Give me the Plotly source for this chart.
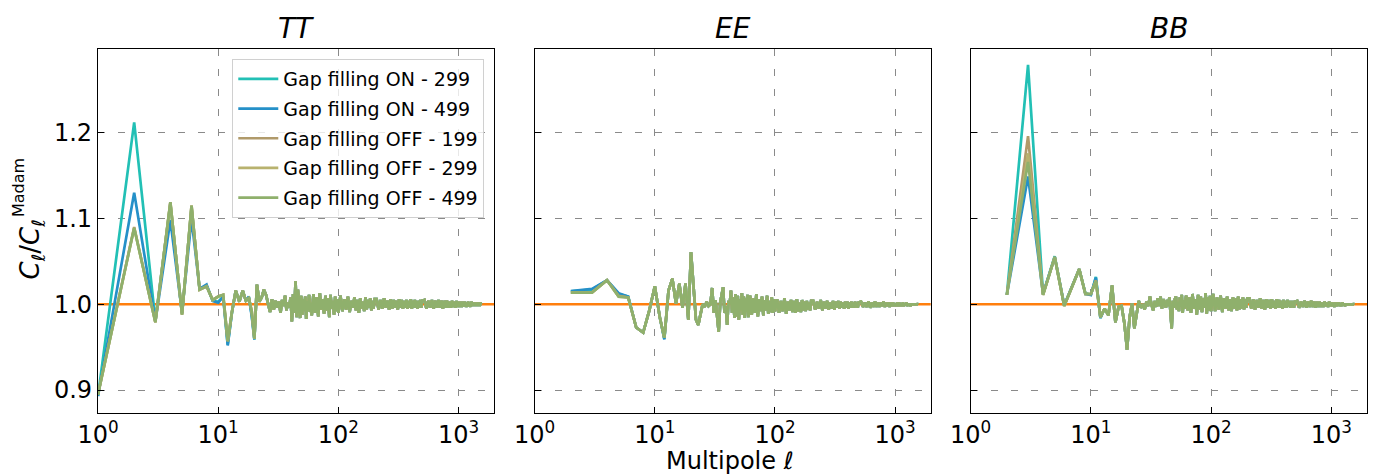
import plotly.graph_objects as go

# ---------------------------------------------------------------------------
# Multipole grid: every multipole at low ell, coarser sampling at high ell
# ---------------------------------------------------------------------------
ell = (list(range(1, 61)) + list(range(62, 101, 2)) + list(range(104, 201, 4))
       + list(range(208, 497, 8)) + list(range(520, 1521, 20)) + [1535])

series_names = ["Gap filling ON - 299", "Gap filling ON - 499", "Gap filling OFF - 199",
                "Gap filling OFF - 299", "Gap filling OFF - 499"]
series_colors = ["#22c0b5", "#2590c8", "#b09a6a", "#b8b26e", "#8fb06c"]

# ---------------------------------------------------------------------------
# TT ratio (ell = 1 ... 1535), common part (Gap filling OFF - 499)
# ---------------------------------------------------------------------------
tt_lo = [0.895, 1.089, 0.979, 1.119, 0.988, 1.115, 1.017, 1.021, 1.005, 1.009,
         1.011, 0.957, 0.991, 1.016, 1.003, 1.016, 1.004, 1.007, 0.992, 0.960,
         1.023, 1.003, 1.008, 1.017, 1.011, 0.999, 0.991, 1.006, 0.994, 1.004,
         0.996, 1.003, 0.990, 1.005, 0.998, 1.010, 0.993, 1.002, 0.996, 1.008,
         0.980, 1.012, 0.990, 1.027, 0.985, 1.017, 0.995, 0.984, 1.010, 0.988,
         1.006, 0.992, 1.009, 0.983, 1.004, 0.993, 1.011, 0.991, 1.002, 0.987]
tt_mid = [1.012, 0.990, 1.008, 0.986, 1.013, 0.994, 1.006, 0.989, 1.010, 0.993,
          1.007, 0.985, 1.011, 0.995, 1.004, 0.988, 1.009, 0.992, 1.006, 0.990]
tt_hi1 = [1.010, 0.992, 1.006, 0.994, 1.009, 0.991, 1.004, 0.996, 1.008, 0.993,
          1.005, 0.990, 1.007, 0.995, 1.003, 0.992, 1.008, 0.994, 1.005, 0.996,
          1.007, 0.993, 1.004, 0.995, 1.006]
tt_hi2 = [1.006, 0.994, 1.005, 0.995, 1.007, 0.996, 1.004, 0.994, 1.006, 0.995,
          1.005, 0.996, 1.004, 0.994, 1.006, 0.996, 1.005, 0.995, 1.004, 0.996,
          1.005, 0.995, 1.004, 0.996, 1.006, 0.995, 1.004, 0.996, 1.005, 0.996,
          1.004, 0.995, 1.004, 0.996, 1.005, 0.996, 1.004]
tt_hi3 = [1.005, 0.995, 1.004, 0.996, 1.005, 0.995, 1.004, 0.996, 1.005, 0.996,
          1.004, 0.995, 1.004, 0.996, 1.004, 0.996, 1.003, 0.996, 1.004, 0.997,
          1.003, 0.996, 1.004, 0.997, 1.003, 0.997, 1.003, 0.997, 1.003, 0.997,
          1.003, 0.997, 1.002, 0.997, 1.003, 0.998, 1.002, 0.997, 1.003, 0.998,
          1.002, 0.998, 1.002, 0.998, 1.002, 0.998, 1.002, 0.998, 1.002, 0.998,
          1.002, 1.000]
# low-ell values where the runs differ
tt_on299_low = [0.893, 1.212, 0.981, 1.117, 0.989, 1.113, 1.018, 1.022, 1.004, 1.003,
                1.009, 0.953, 0.990, 1.016, 1.003, 1.016, 1.004, 1.008, 0.988, 0.959]
tt_on499_low = [0.893, 1.130, 0.980, 1.098, 0.990, 1.100, 1.018, 1.023, 1.004, 1.002,
                1.009, 0.952, 0.990, 1.016, 1.003, 1.016, 1.004, 1.009, 0.986, 0.959]
tt_off199_low = [0.895, 1.090, 0.979, 1.119, 0.988, 1.115, 1.017, 1.021, 1.005, 1.009]
tt_off299_low = [0.895, 1.089, 0.979, 1.119, 0.988, 1.115, 1.017, 1.021, 1.005, 1.009]

# ---------------------------------------------------------------------------
# EE ratio (ell = 2 ... 1535)
# ---------------------------------------------------------------------------
ee_lo = [1.0135, 1.0135, 1.028, 1.009, 1.008, 0.973, 0.967, 0.993, 1.021,
         0.985, 0.961, 1.016, 1.030, 1.001, 1.024, 0.996, 1.024, 0.982, 1.061,
         1.017, 0.982, 0.976, 0.990, 1.000, 0.997, 1.003, 0.998, 1.000, 1.019,
         0.990, 1.005, 0.985, 0.968, 1.002, 1.010, 1.020, 0.990, 0.998, 0.976,
         1.004, 1.000, 1.016, 0.990, 1.008, 0.984, 1.012, 0.986, 1.010, 0.982,
         1.006, 0.993, 1.013, 0.988, 1.009, 0.984, 1.007, 0.991, 1.011, 0.985]
ee_mid = [1.010, 0.988, 1.007, 0.990, 1.012, 0.986, 1.006, 0.992, 1.009, 0.987,
          1.005, 0.993, 1.010, 0.989, 1.004, 0.991, 1.008, 0.990, 1.006, 0.992]
ee_hi1 = [1.006, 0.990, 1.004, 0.992, 1.007, 0.989, 1.003, 0.993, 1.005, 0.991,
          1.004, 0.990, 1.006, 0.992, 1.002, 0.991, 1.005, 0.993, 1.003, 0.992,
          1.004, 0.994, 1.002, 0.993, 1.004]
ee_hi2 = [1.004, 0.994, 1.003, 0.995, 1.005, 0.993, 1.003, 0.995, 1.004, 0.994,
          1.002, 0.995, 1.004, 0.994, 1.003, 0.996, 1.004, 0.995, 1.003, 0.996,
          1.002, 0.995, 1.003, 0.996, 1.003, 0.995, 1.002, 0.996, 1.003, 0.996,
          1.002, 0.996, 1.003, 0.997, 1.002, 0.996, 1.002]
ee_hi3 = [1.003, 0.997, 1.002, 0.997, 1.003, 0.996, 1.002, 0.997, 1.003, 0.997,
          1.002, 0.997, 1.002, 0.998, 1.003, 0.997, 1.002, 0.998, 1.002, 0.997,
          1.002, 0.998, 1.002, 0.998, 1.001, 0.998, 1.002, 0.998, 1.002, 0.998,
          1.001, 0.998, 1.002, 0.998, 1.001, 0.999, 1.002, 0.998, 1.001, 0.999,
          1.001, 0.998, 1.001, 0.999, 1.001, 0.999, 1.001, 0.999, 1.001, 0.999,
          1.001, 1.000]
ee_on299_low = [1.015, 1.017, 1.028, 1.012, 1.009, 0.973, 0.967, 0.993, 1.021, 0.985, 0.960]
ee_on499_low = [1.0155, 1.018, 1.028, 1.013, 1.009, 0.973, 0.967, 0.993, 1.021, 0.985, 0.959]
ee_off199_low = [1.014, 1.014, 1.028, 1.010, 1.008]
ee_off299_low = [1.0135, 1.0135, 1.028, 1.009, 1.008]

# ---------------------------------------------------------------------------
# BB ratio (ell = 2 ... 1535)
# ---------------------------------------------------------------------------
bb_lo = [1.011, 1.166, 1.011, 1.055, 0.998, 1.020, 1.041, 1.012, 1.012,
         1.027, 0.985, 0.995, 0.987, 1.022, 0.979, 0.997, 0.998, 0.978, 0.947,
         0.985, 1.001, 0.972, 0.990, 1.004, 0.996, 1.000, 0.994, 1.003, 0.998,
         1.009, 0.999, 0.993, 1.004, 0.997, 1.007, 0.998, 1.009, 0.995, 1.006,
         1.001, 0.996, 1.005, 0.998, 1.008, 0.993, 0.972, 1.004, 0.996, 1.006,
         1.009, 0.994, 1.003, 0.992, 1.008, 0.997, 1.011, 0.990, 1.005, 0.995]
bb_mid = [1.010, 0.993, 1.008, 0.990, 1.012, 0.995, 1.006, 0.988, 1.011, 0.994,
          1.009, 0.991, 1.007, 0.996, 1.013, 0.989, 1.008, 0.993, 1.010, 0.992]
bb_hi1 = [1.012, 0.992, 1.008, 0.994, 1.010, 0.991, 1.007, 0.995, 1.009, 0.993,
          1.006, 0.992, 1.008, 0.995, 1.007, 0.993, 1.009, 0.994, 1.006, 0.995,
          1.008, 0.994, 1.006, 0.996, 1.007]
bb_hi2 = [1.007, 0.995, 1.006, 0.994, 1.005, 0.996, 1.007, 0.995, 1.005, 0.994,
          1.006, 0.996, 1.005, 0.995, 1.006, 0.996, 1.004, 0.995, 1.006, 0.996,
          1.005, 0.996, 1.004, 0.995, 1.005, 0.996, 1.004, 0.996, 1.005, 0.997,
          1.004, 0.996, 1.004, 0.997, 1.004, 0.996, 1.003]
bb_hi3 = [1.004, 0.996, 1.003, 0.997, 1.004, 0.996, 1.003, 0.997, 1.004, 0.997,
          1.003, 0.996, 1.003, 0.997, 1.003, 0.997, 1.002, 0.997, 1.003, 0.998,
          1.002, 0.997, 1.003, 0.998, 1.002, 0.998, 1.002, 0.997, 1.002, 0.998,
          1.002, 0.998, 1.002, 0.998, 1.001, 0.998, 1.002, 0.999, 1.001, 0.998,
          1.001, 0.999, 1.001, 0.999, 1.001, 0.999, 1.001, 0.999, 1.001, 0.999,
          1.001, 1.000]
bb_on299_low = [1.011, 1.279, 1.012, 1.056, 0.999, 1.021, 1.041, 1.013, 1.011, 1.032, 0.984]
bb_on499_low = [1.011, 1.149, 1.012, 1.055, 0.999, 1.021, 1.041, 1.012, 1.011, 1.031, 0.984]
bb_off199_low = [1.011, 1.196, 1.011, 1.055, 0.998, 1.020, 1.041, 1.012, 1.012, 1.028, 0.985]
bb_off299_low = [1.011, 1.176, 1.011, 1.055, 0.998, 1.020, 1.041, 1.012, 1.012, 1.027, 0.985]

tt_base = tt_lo + tt_mid + tt_hi1 + tt_hi2 + tt_hi3
ee_base = ee_lo + ee_mid + ee_hi1 + ee_hi2 + ee_hi3
bb_base = bb_lo + bb_mid + bb_hi1 + bb_hi2 + bb_hi3
assert len(tt_base) == len(ell)
assert len(ee_base) == len(ell) - 1 and len(bb_base) == len(ell) - 1

# unit ratio level drawn across each panel
unity = 1.0


def runs(base, lows):
    """Full curve for each run: its own low-ell values followed by the common tail."""
    return [low + base[len(low):] for low in lows] + [base]


spectra = [
    ("TT", ell, runs(tt_base, [tt_on299_low, tt_on499_low, tt_off199_low, tt_off299_low])),
    ("EE", ell[1:], runs(ee_base, [ee_on299_low, ee_on499_low, ee_off199_low, ee_off299_low])),
    ("BB", ell[1:], runs(bb_base, [bb_on299_low, bb_on499_low, bb_off199_low, bb_off299_low])),
]

FONT = "DejaVu Sans"
domains = [[0.0, 0.3123], [0.3441, 0.6563], [0.6877, 1.0]]
y_range = [0.8733, 1.2976]
x_range = [0.0, 3.297]
x_span = [10 ** x_range[0], 10 ** x_range[1]]
minor_vals = [m * d for d in (1, 10, 100, 1000) for m in range(2, 10) if m * d < 2000]
grid_style = dict(showgrid=True, gridcolor="#8a8a8a", gridwidth=1, griddash="7px,13px")
tick_style = dict(ticks="inside", ticklen=6, tickwidth=1, tickcolor="black")
frame = dict(showline=True, linecolor="black", linewidth=1.2, mirror=True, zeroline=False)

fig = go.Figure()
for i, (name, x, curves) in enumerate(spectra):
    sfx = "" if i == 0 else str(i + 1)
    minor_ax = str(i + 4)
    # unity level across the full axis span, beneath the curves
    fig.add_trace(go.Scatter(
        x=x_span, y=[unity, unity], mode="lines", showlegend=False, hoverinfo="skip",
        line=dict(color="#ff7f0e", width=2.5), xaxis="x" + sfx, yaxis="y" + sfx,
    ))
    for j, yv in enumerate(curves):
        fig.add_trace(go.Scatter(
            x=x, y=yv, mode="lines", name=series_names[j],
            line=dict(color=series_colors[j], width=2.7),
            showlegend=(i == 0), legendgroup=series_names[j],
            xaxis="x" + sfx, yaxis="y" + sfx,
        ))
    fig.add_annotation(text="<i>" + name + "</i>", xref="paper", yref="paper",
                       x=sum(domains[i]) / 2, y=1.055, showarrow=False,
                       xanchor="center", yanchor="middle",
                       font=dict(family=FONT, size=28, color="black"))

    xa = dict(type="log", domain=domains[i], range=x_range, anchor="y" + sfx,
              tickvals=[1, 10, 100, 1000],
              ticktext=["10<sup>0</sup>", "10<sup>1</sup>", "10<sup>2</sup>", "10<sup>3</sup>"],
              **tick_style, **frame, **grid_style,
              tickfont=dict(family=FONT, size=24, color="black"))
    # companion axis carrying the minor tick marks
    xm = dict(type="log", range=x_range, overlaying="x" + sfx, anchor="y" + sfx,
              side="bottom", tickvals=minor_vals, showticklabels=False,
              ticks="inside", ticklen=3.5, tickwidth=0.8, tickcolor="black",
              showgrid=False, showline=False, zeroline=False)
    ya = dict(range=y_range, anchor="x" + sfx, domain=[0, 1],
              tickvals=[0.9, 1.0, 1.1, 1.2], ticktext=["0.9", "1.0", "1.1", "1.2"],
              showticklabels=(i == 0), **tick_style, **frame, **grid_style,
              tickfont=dict(family=FONT, size=24, color="black"))
    fig.update_layout(**{"xaxis" + sfx: xa, "yaxis" + sfx: ya, "xaxis" + minor_ax: xm})

# axis labels
fig.add_annotation(text="Multipole <i>ℓ</i>", xref="paper", yref="paper",
                   x=0.4983, y=-0.131, showarrow=False, xanchor="center", yanchor="middle",
                   font=dict(family=FONT, size=24, color="black"))
fig.add_annotation(text="<i>C</i><sub><i>ℓ</i></sub>/<i>C</i><sub><i>ℓ</i></sub>",
                   xref="paper", yref="paper", x=-0.0526, y=0.45, textangle=-90,
                   showarrow=False, xanchor="center", yanchor="middle",
                   font=dict(family=FONT, size=26, color="black"))
fig.add_annotation(text="Madam", xref="paper", yref="paper", x=-0.0625, y=0.62,
                   textangle=-90, showarrow=False, xanchor="center", yanchor="middle",
                   font=dict(family=FONT, size=16, color="black"))

fig.update_layout(
    width=1381, height=475,
    margin=dict(l=98, r=14, t=49, b=62),
    paper_bgcolor="white", plot_bgcolor="white",
    font=dict(family=FONT, color="black"),
    legend=dict(x=0.3044, y=0.9725, xanchor="right", yanchor="top",
                bgcolor="rgba(255,255,255,0.8)", bordercolor="#d0d0d0", borderwidth=1,
                font=dict(family=FONT, size=19, color="black"),
                tracegroupgap=2, itemwidth=40),
)

fig.write_html("out.html")
